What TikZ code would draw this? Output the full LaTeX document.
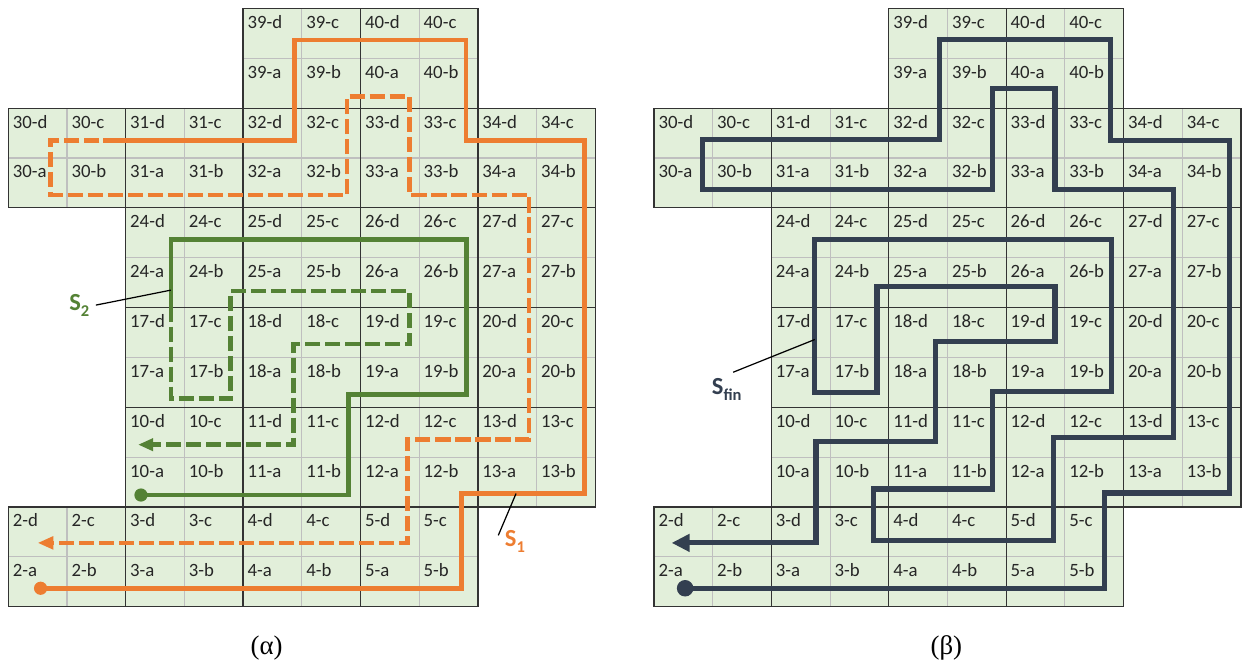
\documentclass[tikz,border=0pt]{standalone}
\usepackage{fontspec}
\setmainfont{Carlito}
\newfontfamily\capfont{Liberation Serif}
\usetikzlibrary{arrows.meta}
\definecolor{RouteOrange}{RGB}{237,125,49}
\definecolor{RouteGreen}{RGB}{84,130,53}
\definecolor{RouteNavy}{RGB}{51,63,80}
\definecolor{CellGreen}{RGB}{226,239,218}
\definecolor{CellGray}{RGB}{191,191,191}
% block number / column / row of every 2x2 block
\newcommand{\blocklist}{39/2/5,40/3/5,30/0/4,31/1/4,32/2/4,33/3/4,34/4/4,24/1/3,25/2/3,26/3/3,27/4/3,17/1/2,18/2/2,19/3/2,20/4/2,10/1/1,11/2/1,12/3/1,13/4/1,2/0/0,3/1/0,4/2/0,5/3/0}
\newcommand{\lowidx}[1]{\raisebox{-2.9pt}{\fontsize{8}{9}\selectfont #1}}

\begin{document}
\begin{tikzpicture}[
  x=1cm, y=0.8493cm,
  cellbg/.style={fill=CellGreen},
  subline/.style={draw=CellGray, line width=0.55pt},
  blkline/.style={draw=black!80, line width=0.6pt},
  cell/.style={anchor=base west, inner sep=0pt, font=\fontsize{9.1}{10}\selectfont, text=black!85},
  route/.style={line width=2.25pt},
  back/.style={line width=2.25pt, dash pattern=on 7.3pt off 2.4pt},
  lead/.style={black, line width=0.6pt},
  tag/.style={font=\fontsize{11.9}{13}\selectfont\bfseries, inner sep=3pt},
  caption/.style={font=\fontsize{13}{15}\selectfont\capfont}
]

\useasboundingbox (-0.1414,-1.130) rectangle (21.017,12.170);

% Grids (alpha at 0, beta at 11)
\foreach \ox in {0,11}{
  \foreach \n/\c/\r in \blocklist{
    \fill[cellbg] (\ox+2*\c,2*\r) rectangle ++(2,2);
    \draw[subline] (\ox+2*\c+1,2*\r) -- ++(0,2);
    \draw[subline] (\ox+2*\c,2*\r+1) -- ++(2,0);
  }
}
\foreach \ox/\g in {0/L,11/R}{
  \foreach \n/\c/\r in \blocklist{
    \draw[blkline] (\ox+2*\c,2*\r) rectangle ++(2,2);
    \node[cell] (\g\n-d) at (\ox+2*\c+0.07,2*\r+1.6) {\n-d};
    \node[cell] (\g\n-c) at (\ox+2*\c+1.07,2*\r+1.6) {\n-c};
    \node[cell] (\g\n-a) at (\ox+2*\c+0.07,2*\r+0.6) {\n-a};
    \node[cell] (\g\n-b) at (\ox+2*\c+1.07,2*\r+0.6) {\n-b};
  }
}

% (alpha): S1
\draw[route, RouteOrange] (0.55,0.37) -- (7.72,0.37) -- (7.72,2.27) -- (9.82,2.27) -- (9.82,9.35) -- (7.80,9.35) -- (7.80,11.37) -- (4.88,11.37) -- (4.88,9.35) -- (1.62,9.35);
\draw[back, RouteOrange, -{Triangle[length=7.6pt, width=6pt]}] (1.55,9.35) -- (0.72,9.35) -- (0.72,8.26) -- (5.77,8.26) -- (5.77,10.23) -- (6.83,10.23) -- (6.83,8.26) -- (8.87,8.26) -- (8.87,3.36) -- (6.80,3.36) -- (6.80,1.28) -- (0.50,1.28);
\fill[RouteOrange] (0.55,0.37) circle (3.2pt);

% (alpha): S2
\draw[route, RouteGreen] (2.26,2.24) -- (5.80,2.24) -- (5.80,4.26) -- (7.81,4.26) -- (7.81,7.36) -- (2.77,7.36) -- (2.77,5.72);
\draw[back, RouteGreen, -{Triangle[length=7.3pt, width=5.8pt]}] (2.77,5.62) -- (2.77,4.17) -- (3.79,4.17) -- (3.79,6.33) -- (6.83,6.33) -- (6.83,5.27) -- (4.86,5.27) -- (4.86,3.25) -- (2.21,3.25);
\fill[RouteGreen] (2.26,2.24) circle (3.2pt);

% (beta): Sfin
\begin{scope}[shift={(11,0)}]
\draw[route, line width=2.5pt, RouteNavy, -{Triangle[length=8.7pt, width=8.2pt]}] (0.53,0.37) -- (7.68,0.37) -- (7.68,2.28) -- (9.81,2.28) -- (9.81,9.35) -- (7.78,9.35) -- (7.78,11.37) -- (4.87,11.37) -- (4.87,9.37) -- (0.82,9.37) -- (0.82,8.37) -- (5.77,8.37) -- (5.77,10.40) -- (6.83,10.40) -- (6.83,8.37) -- (8.85,8.37) -- (8.85,3.39) -- (6.80,3.39) -- (6.80,1.32) -- (3.74,1.32) -- (3.74,2.36) -- (5.77,2.36) -- (5.77,4.31) -- (7.80,4.31) -- (7.80,7.37) -- (2.74,7.37) -- (2.74,4.29) -- (3.80,4.29) -- (3.80,6.43) -- (6.83,6.43) -- (6.83,5.32) -- (4.80,5.32) -- (4.80,3.31) -- (2.76,3.31) -- (2.76,1.28) -- (0.30,1.28);
\fill[RouteNavy] (0.53,0.37) circle (4pt);
\end{scope}

% Tags
\node[tag, text=RouteGreen] (s2tag) at (1.21,6.05) {S\lowidx{2}};
\coordinate (s2pt) at (2.77,6.35);
\draw[lead] (s2tag.east) -- (s2pt);

\node[tag, text=RouteOrange] (s1tag) at (8.63,1.31) {S\lowidx{1}};
\coordinate (s1pt) at (8.65,2.27);
\draw[lead] (s1tag.160) -- (s1pt);

\node[tag, text=RouteNavy] (sfintag) at (12.24,4.35) {S\lowidx{fin}};
\coordinate (sfinpt) at (13.74,5.36);
\draw[lead] (sfintag.70) -- (sfinpt);

% Captions
\node[caption] (capa) at (4.40,-0.83) {(α)};
\node[caption] (capb) at (15.98,-0.83) {(β)};

\end{tikzpicture}
\end{document}
